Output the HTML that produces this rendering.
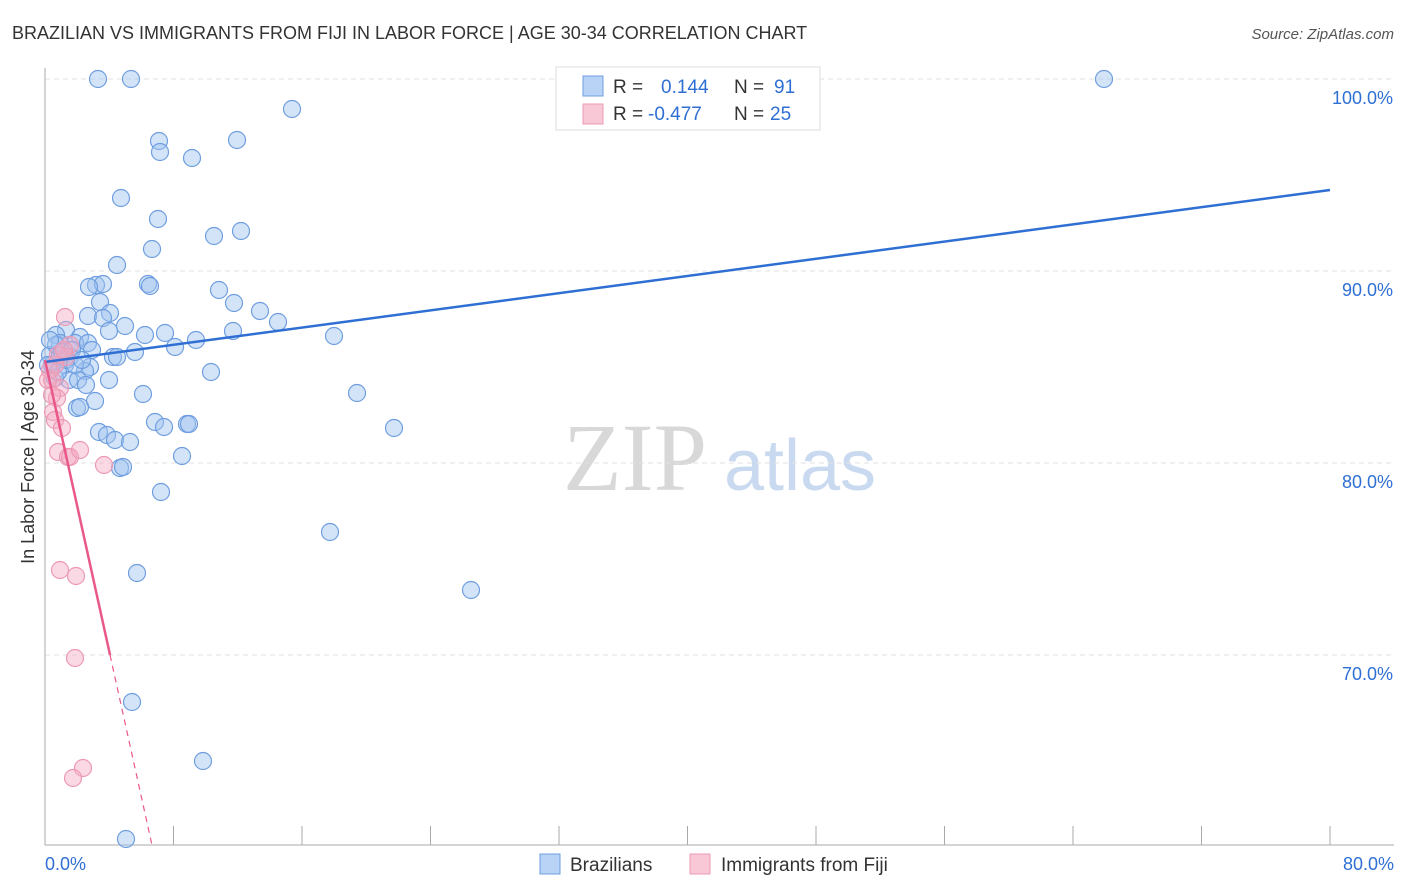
<!DOCTYPE html>
<html><head><meta charset="utf-8"><style>
body{margin:0;background:#fff;font-family:"Liberation Sans",sans-serif;}
svg{display:block}
</style></head><body>
<svg id="chart" width="1406" height="892" xmlns="http://www.w3.org/2000/svg">
<text x="12" y="39" font-size="18" fill="#333" font-family="Liberation Sans, sans-serif">BRAZILIAN VS IMMIGRANTS FROM FIJI IN LABOR FORCE | AGE 30-34 CORRELATION CHART</text>
<text x="1394" y="39" font-size="15" fill="#555" font-style="italic" text-anchor="end">Source: ZipAtlas.com</text>
<g>
<text x="635" y="490" font-size="96" fill="#d8d8d8" font-family="Liberation Serif, serif" text-anchor="middle">ZIP</text>
<text x="800" y="490" font-size="72" fill="#c9daf0" text-anchor="middle">atlas</text>
</g>
<g id="grid"></g>
<g id="axes"></g>
<g id="pts"></g>
<g id="lines"></g>
<text transform="translate(34,457) rotate(-90)" font-size="18" fill="#333" text-anchor="middle">In Labor Force | Age 30-34</text>
<g>
<rect x="556" y="67" width="264" height="63" fill="#fff" stroke="#ddd"/>
<rect x="583" y="76" width="20" height="20" fill="#b8d3f5" stroke="#6f9ee0"/>
<rect x="583" y="104" width="20" height="20" fill="#f9c8d6" stroke="#ec9ab3"/>
<text x="613" y="93" font-size="19" fill="#333">R = </text><text x="661" y="93" font-size="19" fill="#2f6fd4">0.144</text>
<text x="734" y="93" font-size="19" fill="#333">N = </text><text x="774" y="93" font-size="19" fill="#2f6fd4">91</text>
<text x="613" y="120" font-size="19" fill="#333">R = </text><text x="648" y="120" font-size="19" fill="#2f6fd4">-0.477</text>
<text x="734" y="120" font-size="19" fill="#333">N = </text><text x="770" y="120" font-size="19" fill="#2f6fd4">25</text>
</g>
<g>
<rect x="540" y="854" width="20" height="20" fill="#b8d3f5" stroke="#6f9ee0"/>
<text x="570" y="871" font-size="19" fill="#333">Brazilians</text>
<rect x="690" y="854" width="20" height="20" fill="#f9c8d6" stroke="#ec9ab3"/>
<text x="721" y="871" font-size="19" fill="#333">Immigrants from Fiji</text>
</g>
</svg>
<script>
const yTicks=[70,80,90,100];
const yTickLabels=["70.0%","80.0%","90.0%","100.0%"];
const xTicks=[0,8,16,24,32,40,48,56,64,72,80];
const xEndLabels=["0.0%","80.0%"];
const braz=[[98,79],[131,79],[1104,79],[292,109],[159,141],[237,140],[160,152],[192,158],[121,198],[158,219],[152,249],[214,236],[241,231],[117,265],[96,285],[103,284],[148,284],[150,286],[219,290],[89,287],[100,302],[234,303],[260,311],[110,313],[88,316],[103,318],[278,322],[125,326],[66,330],[109,331],[56,335],[145,335],[165,333],[233,331],[334,336],[80,337],[196,340],[60,343],[75,343],[88,343],[175,347],[135,352],[50,355],[60,355],[70,357],[113,357],[117,357],[52,365],[65,365],[90,367],[85,371],[211,372],[69,380],[78,380],[109,380],[86,385],[143,394],[357,393],[95,401],[77,408],[80,407],[155,422],[164,427],[187,424],[189,424],[394,428],[99,432],[107,435],[115,440],[130,442],[182,456],[120,468],[123,467],[161,492],[330,532],[137,573],[471,590],[132,702],[203,761],[126,839],[56,345],[48,365],[62,352],[55,378],[72,350],[50,340],[66,360],[58,372],[75,365],[92,350],[82,360]];
const fiji=[[65,317],[70,345],[66,357],[55,365],[52,380],[60,388],[57,398],[53,412],[55,420],[62,428],[58,452],[68,457],[70,457],[80,450],[104,465],[60,570],[76,576],[75,658],[83,768],[73,778],[50,370],[58,355],[48,380],[52,395],[64,350]];
// convert pixel reads to data values
const toX=p=>(p-45)/1285*80, toY=p=>100-(p-79)/19.2;
const brazX=braz.map(d=>toX(d[0])), brazY=braz.map(d=>toY(d[1]));
const fijiX=fiji.map(d=>toX(d[0])), fijiY=fiji.map(d=>toY(d[1]));
const brazTrend=[85.26,94.22]; // y at x=0, x=80
const fijiTrend=[85.36,70.0,4.05]; // y0, y end solid, x end solid
const sx=v=>45+v/80*1285, sy=v=>79+(100-v)*19.2;
const NS="http://www.w3.org/2000/svg";
function mk(tag,attrs,parent){const e=document.createElementNS(NS,tag);for(const k in attrs)e.setAttribute(k,attrs[k]);parent.appendChild(e);return e;}
const grid=document.getElementById('grid'),axes=document.getElementById('axes'),pts=document.getElementById('pts'),lines=document.getElementById('lines');
yTicks.forEach((t,i)=>{
 const l=mk('line',{x1:45,x2:1394,y1:sy(t),y2:sy(t),stroke:'#e2e2e2','stroke-dasharray':'5,4'},grid);
 
 
 const tx=mk('text',{x:1393,y:sy(t)+25,'font-size':18,fill:'#2f6fd4','text-anchor':'end'},grid);
 tx.textContent=yTickLabels[i];
 
 
});
const ax=mk('line',{x1:45,x2:45,y1:68,y2:845,stroke:'#aaa'},axes);


const bx=mk('line',{x1:45,x2:1394,y1:845,y2:845,stroke:'#aaa'},axes);


xTicks.forEach(t=>{
 const l=mk('line',{x1:sx(t),x2:sx(t),y1:826,y2:845,stroke:'#aaa'},axes);
 
 
});
[[0,'start',45],[80,'end',1394]].forEach((a,i)=>{
 const tx=mk('text',{x:a[2],y:870,'font-size':18,fill:'#2f6fd4','text-anchor':a[1]},axes);
 tx.textContent=xEndLabels[i];
 
 
});
brazX.forEach((x,i)=>{
 const c=mk('circle',{cx:sx(x),cy:sy(brazY[i]),r:8.5,fill:'rgba(160,195,240,0.45)',stroke:'#6f9ee0','stroke-width':1.2},pts);
 
 
});
fijiX.forEach((x,i)=>{
 const c=mk('circle',{cx:sx(x),cy:sy(fijiY[i]),r:8.5,fill:'rgba(245,170,195,0.45)',stroke:'#ec9ab3','stroke-width':1.2},pts);
 
 
});
const bl=mk('line',{x1:sx(0),y1:sy(brazTrend[0]),x2:sx(80),y2:sy(brazTrend[1]),stroke:'#2f6fd4','stroke-width':2.5},lines);


const slope=(fijiTrend[1]-fijiTrend[0])/fijiTrend[2];
const pl=mk('line',{x1:sx(0),y1:sy(fijiTrend[0]),x2:sx(fijiTrend[2]),y2:sy(fijiTrend[1]),stroke:'#e8588a','stroke-width':2.5},lines);


const yEnd=60.1, xEnd=fijiTrend[2]+(yEnd-fijiTrend[1])/slope;
const pd=mk('line',{x1:sx(fijiTrend[2]),y1:sy(fijiTrend[1]),x2:sx(xEnd),y2:sy(yEnd),stroke:'#e8588a','stroke-width':1.2,'stroke-dasharray':'6,5'},lines);


</script>
</body></html>
